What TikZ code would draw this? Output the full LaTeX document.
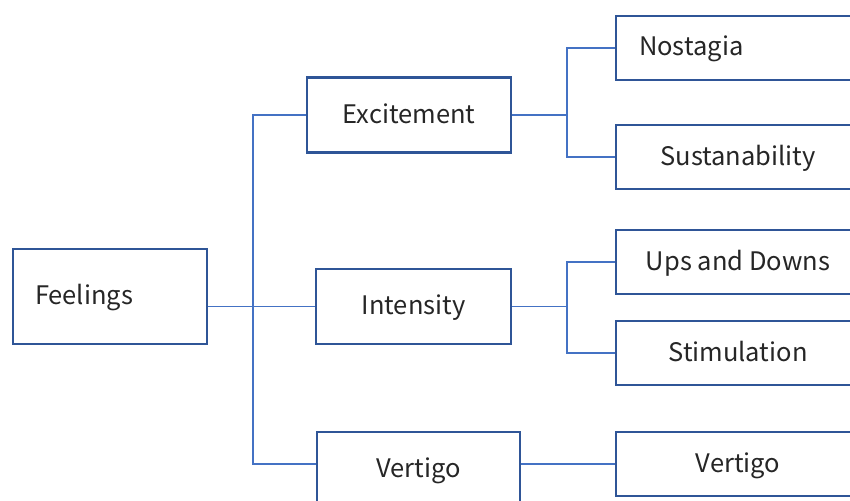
\documentclass[tikz,border=0pt]{standalone}
\usepackage{fontspec}
\setmainfont{Noto Sans CJK SC}
\usetikzlibrary{positioning}
\definecolor{boxblue}{RGB}{47,85,151}
\definecolor{linkblue}{RGB}{68,114,196}

\begin{document}
\begin{tikzpicture}[x=1pt,y=-1pt,
  box/.style={draw=boxblue,line width=2.6pt,fill=white,rectangle,font=\fontsize{25.5}{30}\selectfont,text=black!85,text height=1.6em,text depth=0pt},
  mid/.style={box,minimum width=200,minimum height=75},
  leaf/.style={box,minimum width=244,minimum height=64},
  link/.style={draw=linkblue,line width=1.2pt}]
\clip (0,0) rectangle (850,500);
\fill[white] (0,0) rectangle (850,500);

\node[box,minimum height=95,inner xsep=22,text width=150,align=left] (feel) at (110,296.5) {Feelings};
\node[mid,minimum width=204] (exc) at (409,115) {Excitement};
\node[mid,minimum width=195] (int) at (413.5,306.5) {Intensity};
\node[mid,minimum width=203] (vermid) at (418.5,469.5) {Vertigo};

\node[leaf,inner xsep=23,text width=198,align=left] (nost) at (738,48) {Nostagia};
\node[leaf] (sust) at (738,157) {Sustanability};
\node[leaf] (ups) at (738,262) {Ups and Downs};
\node[leaf] (stim) at (738,353) {Stimulation};
\node[leaf] (verleaf) at (738,464) {Vertigo};

\coordinate (trunk) at (253,306.5);
\coordinate (excfork) at (567,115);
\coordinate (intfork) at (567,306.5);

\draw[link] (feel.east |- int.west) -- (int.west);
\draw[link] (exc.west) -| (trunk) |- (vermid.west |- verleaf.west);
\draw[link] (exc.east) -- (excfork);
\draw[link] (nost.west) -| (excfork) |- (sust.west);
\draw[link] (int.east) -- (intfork);
\draw[link] (ups.west) -| (intfork) |- (stim.west);
\draw[link] (vermid.east |- verleaf.west) -- (verleaf.west);
\end{tikzpicture}
\end{document}
